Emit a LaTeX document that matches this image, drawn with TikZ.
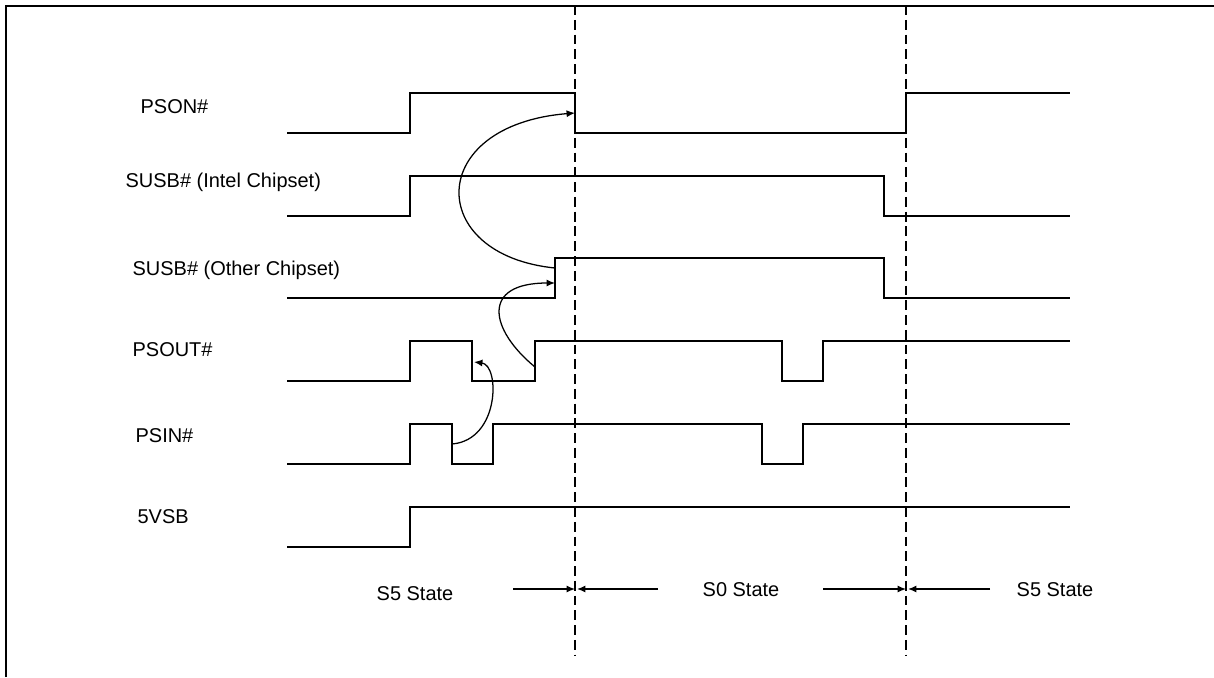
\documentclass[tikz,border=0pt]{standalone}
\usepackage{fontspec}
\setmainfont{Liberation Sans}
\usetikzlibrary{arrows.meta}

\begin{document}
\begin{tikzpicture}[x=0.025cm,y=-0.025cm,line width=0.9pt,>={Latex[length=6pt,width=5pt]},
  font=\fontsize{14.2}{17}\selectfont,
  sig/.style={anchor=base west,inner sep=0pt},
  state/.style={anchor=base,inner sep=0pt},
  border/.style={line width=1.6pt,dash pattern=on 7pt off 3.5pt}]
  \useasboundingbox (0,0) rectangle (1214,677);
  \draw[line width=1.4pt] (6,677)--(6,6)--(1214,6);
  % state borders
  \draw[border] (575,5)--(575,655);
  \draw[border] (906,5)--(906,655);
  % signal names
  \node[sig] (pson) at (140,113) {PSON\#};
  \node[sig] (susbi) at (125,187) {SUSB\# (Intel Chipset)};
  \node[sig] (susbo) at (132,275) {SUSB\# (Other Chipset)};
  \node[sig] (psout) at (132,356) {PSOUT\#};
  \node[sig] (psin) at (135,442) {PSIN\#};
  \node[sig] (vsb) at (137,523) {5VSB};
  % waveforms
  \draw (287,133)--(410,133)--(410,93)--(575,93)--(575,133)--(906,133)--(906,93)--(1070,93);
  \draw (287,216)--(410,216)--(410,176)--(884,176)--(884,216)--(1070,216);
  \draw (287,298)--(555,298)--(555,258)--(884,258)--(884,298)--(1070,298);
  \draw (287,381)--(410,381)--(410,341)--(472,341)--(472,381)--(535,381)--(535,341)
    --(782,341)--(782,381)--(823,381)--(823,341)--(1070,341);
  \draw (287,464)--(410,464)--(410,424)--(452,424)--(452,464)--(493,464)--(493,424)
    --(762,424)--(762,464)--(803,464)--(803,424)--(1070,424);
  \draw (287,547)--(410,547)--(410,507)--(1070,507);
  % edges that trigger each other
  \coordinate (psinfall) at (452,444);
  \coordinate (psoutfall) at (474,362);
  \coordinate (psoutrise) at (535,367);
  \coordinate (susborise) at (555,283);
  \coordinate (susbotop) at (555,268);
  \coordinate (psonfall) at (575,113);
  \draw[->] (psinfall) .. controls (500,440) and (500,365) .. (psoutfall);
  \draw[->] (psoutrise) .. controls (490,330) and (480,283) .. (susborise);
  \draw[->] (susbotop) .. controls (425,255) and (425,125) .. (psonfall);
  % states
  \coordinate (b1l) at (575,589);
  \coordinate (b1r) at (577,589);
  \coordinate (b2l) at (906,589);
  \coordinate (b2r) at (908,589);
  \draw[->] (513,589)--(b1l);
  \draw[->] (658,589)--(b1r);
  \draw[->] (823,589)--(b2l);
  \draw[->] (990,589)--(b2r);
  \node[state] (s5a) at (415,600) {S5 State};
  \node[state] (s0) at (741,596) {S0 State};
  \node[state] (s5b) at (1055,596) {S5 State};
\end{tikzpicture}
\end{document}
